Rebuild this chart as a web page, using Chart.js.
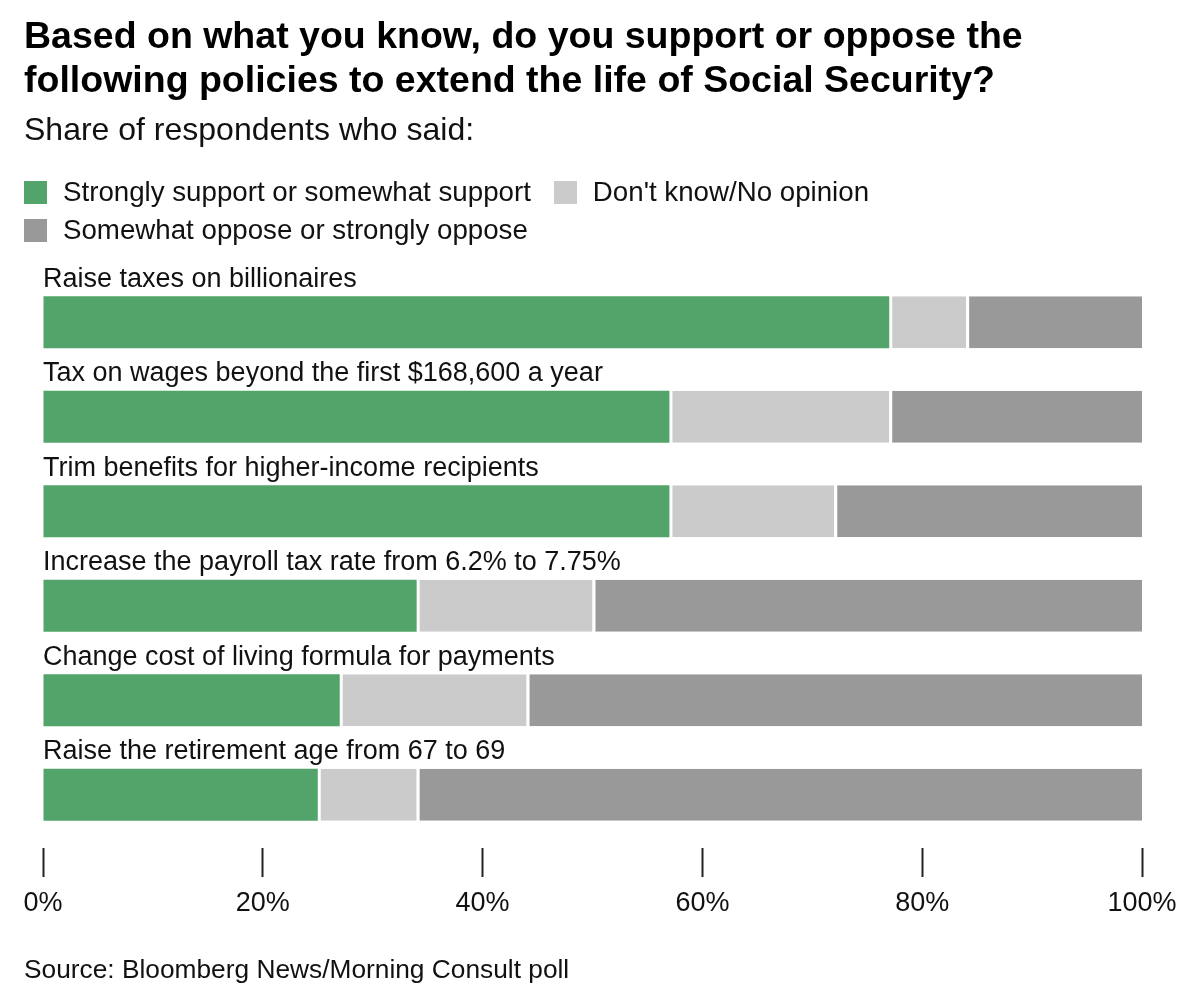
<!DOCTYPE html>
<html>
<head>
<meta charset="utf-8">
<script src="https://cdn.jsdelivr.net/npm/chart.js@4"></script>
<style>
    html, body { margin: 0; padding: 0; background: #fff; }
    body { width: 1200px; height: 1007px; position: relative; overflow: hidden;
           font-family: "Liberation Sans", Arial, sans-serif; color: #111; }
    #wrap { position: absolute; left: 0; top: 0; width: 1200px; height: 1007px; }
    .txt { position: absolute; left: 24px; white-space: nowrap; }
    #title { top: 13px; font-size: 37.5px; font-weight: bold; line-height: 44px; color: #000; }
    #subtitle { top: 111px; font-size: 32px; line-height: 36px; }
    .legend-row { position: absolute; left: 24px; height: 32px; font-size: 27.7px; line-height: 32px; white-space: nowrap; }
    .item { display: inline-block; margin-right: 23px; }
    .swatch { display: inline-block; width: 23px; height: 23px; vertical-align: -3px; margin-right: 16px; }
    #source { top: 954px; font-size: 26.3px; line-height: 30px; }
</style>
</head>
<body>
<div id="wrap"><canvas id="chart" width="1200" height="1007"></canvas></div>
<div id="title" class="txt">Based on what you know, do you support or oppose the<br>following policies to extend the life of Social Security?</div>
<div id="subtitle" class="txt">Share of respondents who said:</div>
<div id="legend1" class="legend-row" style="top:176px"></div>
<div id="legend2" class="legend-row" style="top:214px"></div>
<div id="source" class="txt">Source: Bloomberg News/Morning Consult poll</div>

<script>
// Poll data (percent of respondents)
const policies = [
    'Raise taxes on billionaires',
    'Tax on wages beyond the first $168,600 a year',
    'Trim benefits for higher-income recipients',
    'Increase the payroll tax rate from 6.2% to 7.75%',
    'Change cost of living formula for payments',
    'Raise the retirement age from 67 to 69'
];
const support = [77, 57, 57, 34, 27, 25];
const noOpinion = [7, 20, 15, 16, 17, 9];
const oppose = [16, 23, 28, 50, 56, 66];

const seriesNames = [
    'Strongly support or somewhat support',
    "Don't know/No opinion",
    'Somewhat oppose or strongly oppose'
];
const seriesColors = ['#52a46a', '#cbcbcb', '#999999'];
const xTicks = [0, 20, 40, 60, 80, 100];

const FONT = '"Liberation Sans", Arial, sans-serif';

// Legend (HTML, laid out like the original two rows)
function legendItem(i) {
    return '<span class="item"><span class="swatch" style="background:' + seriesColors[i] +
        '"></span>' + seriesNames[i] + '</span>';
}
document.getElementById('legend1').innerHTML = legendItem(0) + legendItem(1);
document.getElementById('legend2').innerHTML = legendItem(2);

// white gap on the left of the 2nd and 3rd segments
const gapBorder = { top: 0, bottom: 0, right: 0, left: 3 };

const chart = new Chart(document.getElementById('chart'), {
    type: 'bar',
    data: {
        labels: policies,
        datasets: [
            { label: seriesNames[0], data: support, backgroundColor: seriesColors[0], borderWidth: 0 },
            { label: seriesNames[1], data: noOpinion, backgroundColor: seriesColors[1],
              borderColor: '#fff', borderWidth: gapBorder, borderSkipped: false },
            { label: seriesNames[2], data: oppose, backgroundColor: seriesColors[2],
              borderColor: '#fff', borderWidth: gapBorder, borderSkipped: false }
        ]
    },
    options: {
        indexAxis: 'y',
        responsive: false,
        animation: false,
        layout: { padding: { top: 275, left: 43, right: 58, bottom: 0 } },
        datasets: { bar: { categoryPercentage: 1, barPercentage: 0.55 } },
        plugins: { legend: { display: false }, tooltip: { enabled: false } },
        scales: {
            x: {
                stacked: true,
                min: 0,
                max: 100,
                position: 'bottom',
                afterBuildTicks: function(scale) {
                    scale.ticks = xTicks.map(v => ({ value: v }));
                },
                afterFit: function(scale) {
                    scale.height = 165;
                },
                ticks: {
                    callback: v => v + '%',
                    font: { family: FONT, size: 27 },
                    color: '#111',
                    padding: 10,
                    maxRotation: 0
                },
                grid: {
                    drawOnChartArea: false,
                    drawTicks: true,
                    tickLength: 35,
                    tickColor: '#222',
                    tickWidth: 2,
                    tickBorderDash: [0, 6, 40, 6]
                },
                border: { display: false }
            },
            y: {
                stacked: true,
                afterFit: function(scale) {
                    scale.width = 0;
                },
                ticks: {
                    mirror: true,
                    padding: 0,
                    labelOffset: -43,
                    font: { family: FONT, size: 27 },
                    color: '#111'
                },
                grid: { display: false },
                border: { display: false }
            }
        }
    }
});
</script>
</body>
</html>
